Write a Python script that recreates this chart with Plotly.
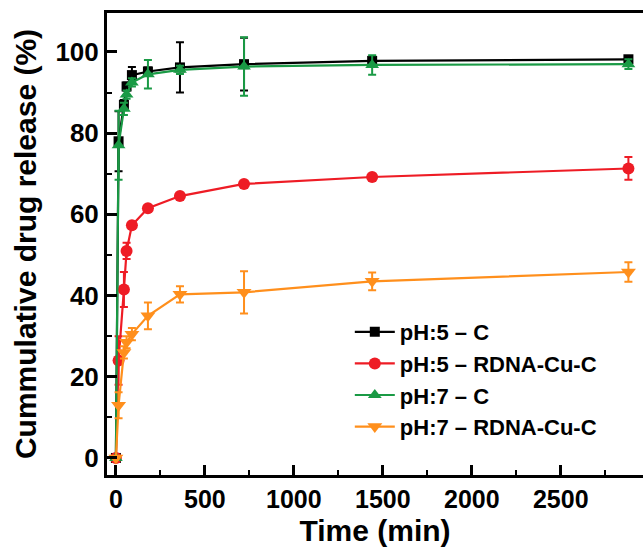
import plotly.graph_objects as go

time_min = [0, 15, 45, 60, 90, 180, 360, 720, 1440, 2880]

ph5_c = [0, 78, 87, 91.5, 94.3, 95.2, 96.2, 97.0, 97.8, 98.2]
ph5_c_err = [0, 7.4, 1.2, 1.0, 2.0, 1.0, 6.2, 6.5, 1.0, 0.8]

ph5_rdna = [0, 24, 41.5, 51, 57.3, 61.5, 64.5, 67.5, 69.2, 71.3]
ph5_rdna_err = [0, 6, 4.3, 2, 0.5, 0.5, 0.5, 0.5, 0.5, 2.8]

ph7_c = [0, 77, 86, 89.5, 92.5, 94.5, 95.6, 96.4, 96.8, 97.0]
ph7_c_err = [0, 8.5, 1.5, 1.0, 1.0, 3.5, 1.0, 7.2, 2.4, 1.2]

ph7_rdna = [0, 13, 26, 28.5, 30.5, 35, 40.3, 40.8, 43.5, 45.8]
ph7_rdna_err = [0, 3.2, 1.5, 1.5, 1.5, 3.3, 2, 5.2, 2.2, 2.4]

names = ["pH:5 \u2013 C", "pH:5 \u2013 RDNA-Cu-C", "pH:7 \u2013 C", "pH:7 \u2013 RDNA-Cu-C"]
colors = ["#000000", "#EE1C25", "#1A9A45", "#FF8F1C"]
symbols = ["square", "circle", "triangle-up", "triangle-down"]
sizes = [10, 12, 12, 13]

FONT = "Liberation Sans"

fig = go.Figure()
series = [(ph5_c, ph5_c_err), (ph5_rdna, ph5_rdna_err), (ph7_c, ph7_c_err), (ph7_rdna, ph7_rdna_err)]
for (vals, errs), name, col, sym, sz in zip(series, names, colors, symbols, sizes):
    fig.add_trace(go.Scatter(
        x=time_min, y=vals, name=name, mode="lines+markers",
        line=dict(color=col, width=2.2),
        marker=dict(symbol=sym, size=sz, color=col),
        error_y=dict(type="data", array=errs, visible=True, color=col, thickness=2, width=4),
    ))

fig.update_layout(
    width=643, height=547,
    margin=dict(l=107, r=0, t=13, b=72),
    paper_bgcolor="white", plot_bgcolor="white",
    font=dict(family=FONT, color="black", size=24),
    showlegend=True,
    legend=dict(
        x=0.453, y=0.355, xanchor="left", yanchor="top",
        font=dict(family=FONT, size=22, color="black", weight="bold"),
        bgcolor="rgba(0,0,0,0)", tracegroupgap=0, itemwidth=40,
    ),
)

fig.update_xaxes(
    range=[-50, 2962], tickmode="linear", tick0=0, dtick=500,
    showline=True, linecolor="black", linewidth=3, mirror=True,
    ticks="inside", ticklen=10, tickwidth=2.5, tickcolor="black",
    minor=dict(ticks="inside", ticklen=5, tickwidth=2, tickcolor="black", dtick=250),
    showgrid=False, zeroline=False,
    tickfont=dict(family=FONT, size=25, color="black", weight="bold"),
    title=dict(text="Time (min)", font=dict(family=FONT, size=30, color="black", weight="bold"), standoff=8),
)
fig.update_yaxes(
    range=[-4.2, 109.6], tickmode="linear", tick0=0, dtick=20,
    showline=True, linecolor="black", linewidth=3, mirror=False,
    ticks="inside", ticklen=10, tickwidth=2.5, tickcolor="black",
    minor=dict(ticks="inside", ticklen=5, tickwidth=2, tickcolor="black", dtick=10),
    showgrid=False, zeroline=False,
    tickfont=dict(family=FONT, size=26, color="black", weight="bold"),
    title=dict(text="Cummulative drug release (%)", font=dict(family=FONT, size=30, color="black", weight="bold"), standoff=10),
)

fig.write_html(
    "out.html",
    config={"displayModeBar": False},
    post_script="document.body.style.margin='0';document.body.style.overflow='hidden';",
)
